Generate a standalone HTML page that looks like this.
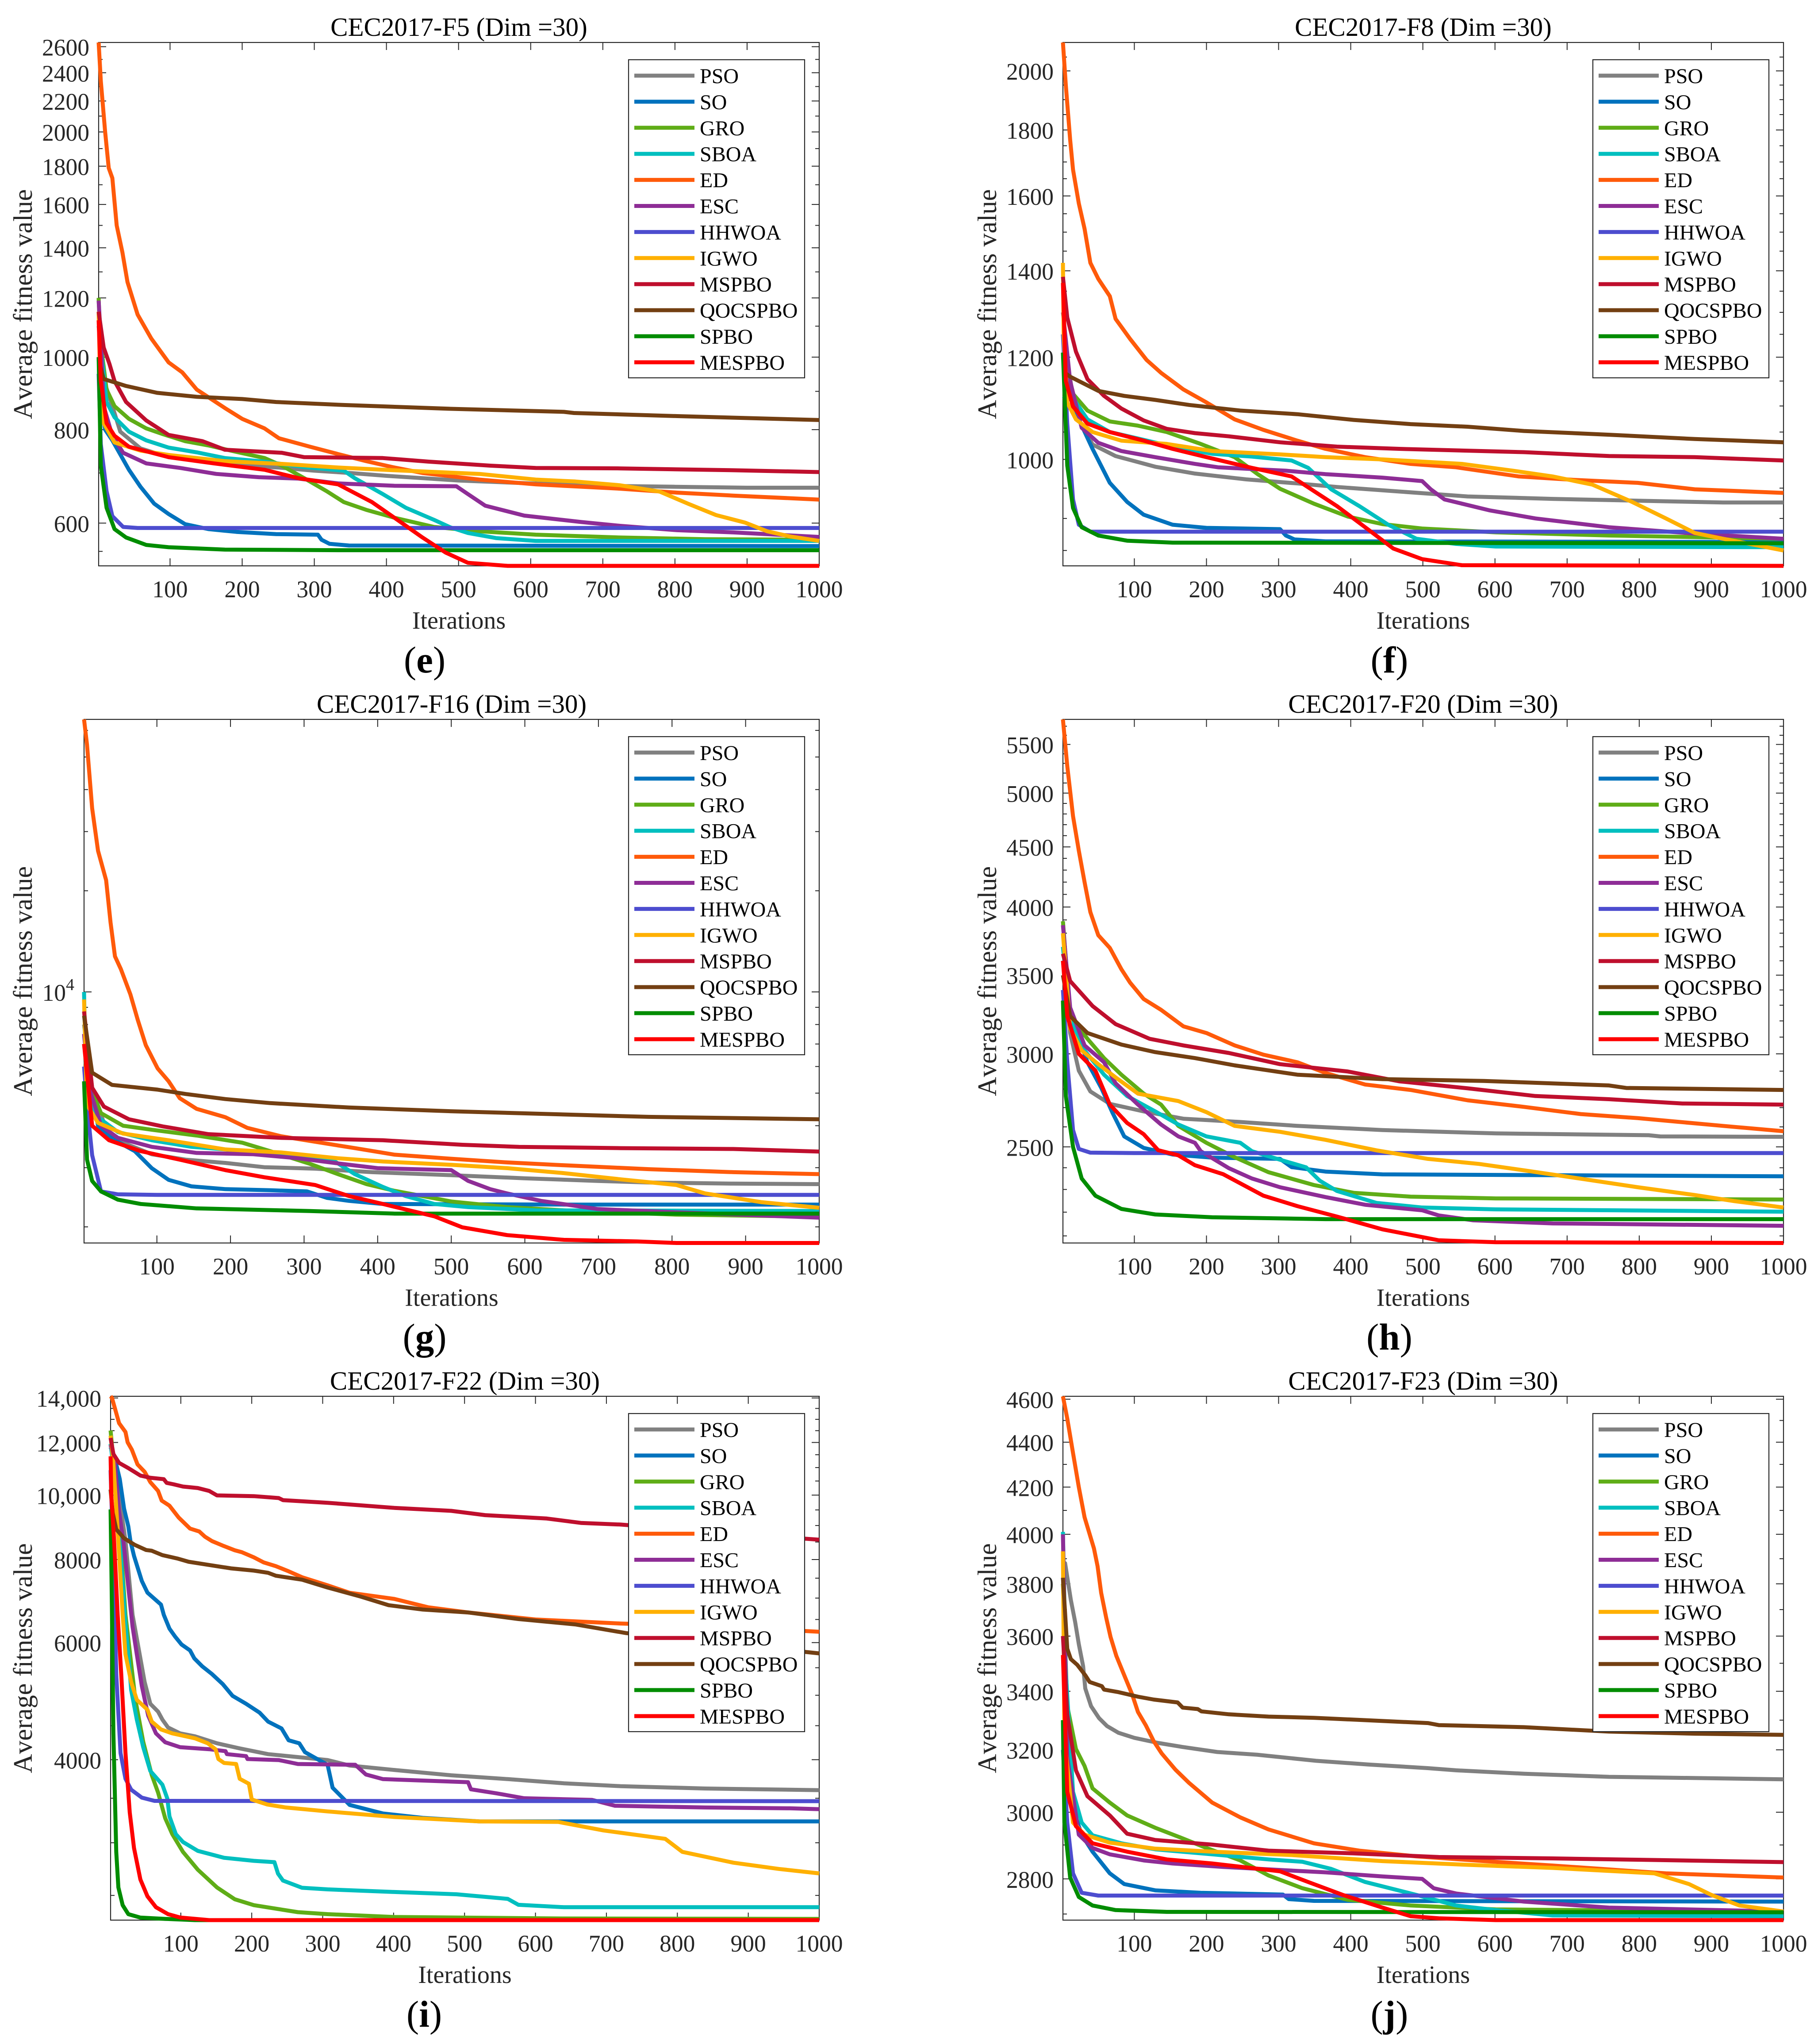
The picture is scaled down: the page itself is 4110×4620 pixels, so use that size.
<!DOCTYPE html>
<html lang="en">
<head>
<meta charset="utf-8">
<title>CEC2017 convergence curves</title>
<style>
html,body{margin:0;padding:0;background:#fff;}
svg{display:block;font-family:"Liberation Serif",serif;font-kerning:none;}
text{fill:#262626;}
</style>
</head>
<body>
<svg id="figure" xmlns="http://www.w3.org/2000/svg" width="4110" height="4620" viewBox="0 0 4110 4620"></svg>
<script>
const seriesNames = ['PSO','SO','GRO','SBOA','ED','ESC','HHWOA','IGWO','MSPBO','QOCSPBO','SPBO','MESPBO'];
const seriesColors = ['#808080','#0072BD','#5FAD17','#00BFBF','#FF5A0A','#8E2D96','#4D4DCF','#FFB000','#BF0F2D','#733F12','#008C00','#FF0000'];
const iterationTicks = [100,200,300,400,500,600,700,800,900,1000];

/* F5 */
const f5Major = [600,800,1000,1200,1400,1600,1800,2000,2200,2400,2600];
const f5Minor = [550,700,900,1100,1300,1500,1700,1900,2100,2300,2500];
const f5PSO = [[1,1000],[10,920],[20,860],[31,795],[59,755],[98,735],[150,724],[200,716],[250,712],[300,705],[350,700],[400,694],[450,689],[500,684],[600,678],[700,673],[800,671],[900,669],[1000,669]];
const f5SO = [[1,1000],[5,860],[10,800],[20,774],[43,707],[59,671],[78,637],[98,617],[121,598],[153,589],[192,584],[247,580],[305,579],[310,570],[321,563],[348,560],[1000,559]];
const f5GRO = [[1,1200],[3,1060],[12,905],[23,860],[43,827],[67,803],[90,789],[121,772],[153,762],[192,747],[231,733],[255,716],[286,689],[317,662],[341,640],[372,625],[411,610],[466,593],[529,585],[607,579],[724,574],[842,571],[1000,570]];
const f5SBOA = [[1,1100],[12,871],[23,831],[43,795],[67,774],[98,757],[137,746],[176,733],[231,725],[286,713],[341,705],[356,689],[395,656],[427,629],[466,606],[489,592],[513,582],[552,573],[607,568],[1000,568]];
const f5ED = [[1,2634],[4,2340],[10,2000],[15,1790],[20,1735],[26,1500],[34,1380],[41,1260],[55,1140],[74,1059],[98,984],[117,954],[137,905],[176,855],[200,827],[231,803],[251,779],[294,759],[333,742],[372,726],[411,712],[450,700],[529,686],[607,676],[724,667],[803,659],[881,653],[1000,645]];
const f5ESC = [[1,1190],[3,1100],[8,860],[20,785],[35,745],[67,721],[114,711],[164,698],[223,691],[278,688],[333,678],[411,673],[497,672],[513,656],[537,633],[591,614],[670,602],[724,595],[803,587],[881,583],[1000,575]];
const f5HHWOA = [[1,950],[4,765],[12,662],[20,613],[35,593],[55,591],[1000,591]];
const f5IGWO = [[1,1150],[3,929],[8,816],[23,769],[59,750],[98,740],[176,726],[255,720],[333,712],[411,706],[529,698],[607,686],[662,682],[724,674],[779,661],[818,637],[857,615],[897,601],[928,585],[959,576],[1000,568]];
const f5MSPBO = [[1,1150],[8,1030],[16,979],[23,929],[39,871],[67,823],[98,787],[145,772],[176,752],[255,745],[286,735],[395,733],[458,725],[544,716],[607,711],[724,710],[881,706],[1000,702]];
const f5QOCSPBO = [[1,990],[8,935],[39,915],[82,896],[137,885],[200,879],[247,871],[341,863],[489,853],[646,845],[660,842],[803,834],[1000,824]];
const f5SPBO = [[1,1000],[4,716],[12,629],[23,589],[39,574],[67,561],[98,557],[176,553],[333,552],[1000,552]];
const f5MESPBO = [[1,1120],[4,929],[12,816],[23,785],[43,759],[98,735],[161,721],[231,707],[278,689],[333,676],[380,640],[411,610],[450,574],[482,548],[513,531],[568,526],[1000,526]];

/* F8 */
const f8Major = [1000,1200,1400,1600,1800,2000];
const f8Minor = [850,900,950,1050,1100,1150,1250,1300,1350,1450,1500,1550,1650,1700,1750,1850,1900,1950,2050];
const f8PSO = [[1,1250],[19,1083],[42,1027],[74,1006],[129,987],[184,975],[255,965],[326,958],[381,952],[459,945],[562,936],[680,932],[798,929],[916,926],[1000,926]];
const f8SO = [[1,1200],[23,1074],[42,1019],[66,959],[90,927],[113,906],[153,890],[200,885],[302,883],[310,873],[322,867],[365,864],[1000,863]];
const f8GRO = [[1,1210],[15,1124],[35,1091],[66,1070],[105,1062],[145,1050],[192,1028],[239,1004],[271,974],[302,949],[349,924],[396,903],[444,891],[499,884],[601,878],[758,873],[1000,868]];
const f8SBOA = [[1,1120],[19,1107],[35,1074],[66,1050],[105,1038],[153,1023],[208,1010],[263,1005],[318,998],[341,985],[373,948],[412,920],[452,890],[491,868],[546,860],[601,856],[1000,855]];
const f8ED = [[1,2104],[5,1950],[11,1769],[15,1677],[23,1579],[31,1509],[39,1420],[50,1380],[66,1338],[74,1285],[94,1240],[117,1194],[137,1167],[168,1133],[200,1107],[239,1074],[279,1054],[326,1034],[365,1019],[420,1004],[483,992],[546,986],[633,970],[711,964],[798,959],[877,948],[1000,942]];
const f8ESC = [[1,1300],[11,1150],[27,1058],[50,1030],[82,1015],[129,1004],[184,992],[216,986],[263,983],[310,980],[365,974],[444,968],[499,962],[511,948],[530,931],[593,913],[656,900],[758,886],[877,876],[1000,868]];
const f8HHWOA = [[1,1250],[7,1066],[15,931],[23,890],[39,879],[1000,879]];
const f8IGWO = [[1,1420],[2,1250],[7,1107],[19,1074],[42,1050],[82,1034],[145,1028],[208,1015],[302,1009],[365,1004],[444,1000],[554,992],[625,980],[680,970],[735,956],[790,927],[837,900],[877,877],[916,868],[1000,850]];
const f8MSPBO = [[1,1385],[7,1288],[19,1212],[35,1154],[58,1120],[82,1095],[113,1072],[145,1056],[184,1048],[231,1042],[302,1031],[381,1023],[467,1019],[640,1013],[758,1006],[877,1004],[1000,998]];
const f8QOCSPBO = [[1,1170],[11,1159],[50,1130],[86,1120],[129,1112],[176,1102],[247,1091],[326,1084],[404,1073],[483,1065],[562,1060],[640,1052],[758,1045],[877,1037],[1000,1031]];
const f8SPBO = [[1,1210],[7,989],[15,917],[27,886],[50,873],[90,865],[153,862],[1000,861]];
const f8MESPBO = [[1,1370],[5,1150],[15,1099],[35,1066],[66,1050],[113,1034],[153,1019],[200,1004],[263,985],[318,970],[349,945],[381,920],[420,886],[459,853],[499,837],[554,828],[1000,827]];

/* F16 */
const f16Major = [10000];
const f16Minor = [2000,3000,4000,5000,6000,7000,8000,9000,20000,30000,40000,50000,60000];
const f16PSO = [[1,8000],[12,5190],[31,3890],[54,3560],[93,3290],[139,3170],[193,3100],[246,3010],[315,2980],[392,2910],[500,2850],[599,2790],[699,2740],[768,2710],[883,2690],[1000,2680]];
const f16SO = [[1,7000],[20,4000],[43,3620],[70,3360],[93,2990],[116,2760],[147,2640],[193,2590],[254,2570],[304,2550],[331,2440],[361,2390],[407,2340],[653,2330],[1000,2330]];
const f16GRO = [[1,7000],[8,5350],[24,4360],[54,4000],[93,3890],[154,3740],[216,3560],[254,3360],[308,3080],[346,2870],[385,2680],[423,2560],[500,2380],[576,2290],[653,2240],[806,2175],[1000,2145]];
const f16SBOA = [[1,10000],[3,6180],[16,4300],[47,3830],[93,3620],[147,3460],[208,3380],[262,3320],[338,3170],[369,2870],[407,2630],[438,2470],[477,2340],[523,2290],[615,2240],[1000,2230]];
const f16ED = [[1,64700],[5,54400],[12,35200],[20,26300],[31,21500],[37,16100],[43,12760],[51,11700],[64,9830],[74,8260],[85,6940],[101,5920],[116,5420],[131,4830],[154,4490],[193,4240],[223,3940],[269,3720],[323,3560],[369,3430],[423,3280],[499,3190],[576,3110],[653,3050],[768,2970],[883,2910],[1000,2870]];
const f16ESC = [[1,7500],[8,5190],[24,4000],[47,3680],[93,3460],[154,3320],[231,3290],[292,3200],[346,3090],[400,2990],[500,2950],[523,2740],[553,2590],[576,2515],[622,2390],[699,2260],[806,2210],[1000,2130]];
const f16HHWOA = [[1,6000],[5,4620],[12,3270],[24,2550],[47,2500],[100,2490],[1000,2490]];
const f16IGWO = [[1,9500],[5,4620],[20,4080],[54,3790],[116,3620],[193,3400],[269,3330],[346,3200],[407,3130],[500,3060],[576,2990],[653,2890],[730,2770],[806,2665],[845,2515],[921,2370],[1000,2280]];
const f16MSPBO = [[1,8750],[12,5190],[28,4560],[62,4180],[108,3980],[170,3775],[269,3680],[407,3620],[515,3510],[592,3460],[730,3430],[883,3410],[1000,3350]];
const f16QOCSPBO = [[1,8500],[12,5750],[39,5290],[101,5120],[139,4970],[193,4800],[254,4670],[361,4530],[500,4415],[653,4320],[768,4250],[1000,4180]];
const f16SPBO = [[1,5420],[5,3170],[12,2740],[24,2550],[47,2410],[78,2340],[154,2270],[308,2230],[423,2190],[1000,2190]];
const f16MESPBO = [[1,7000],[12,4000],[35,3620],[78,3360],[131,3170],[193,2950],[246,2810],[315,2665],[361,2470],[407,2340],[477,2150],[515,1994],[576,1890],[653,1830],[753,1810],[806,1791],[1000,1791]];

/* F20 */
const f20Major = [2500,3000,3500,4000,4500,5000,5500];
const f20Minor = [2100,2200,2300,2400,2600,2700,2800,2900,3100,3200,3300,3400,3600,3700,3800,3900,4100,4200,4300,4400,4600,4700,4800,4900,5100,5200,5300,5400,5600,5700];
const f20PSO = [[1,3600],[11,3125],[23,2903],[39,2787],[66,2720],[113,2680],[168,2642],[247,2625],[326,2605],[444,2584],[601,2567],[813,2558],[829,2552],[1000,2550]];
const f20SO = [[1,3400],[15,3206],[35,2951],[54,2808],[70,2671],[86,2552],[113,2495],[153,2463],[208,2448],[302,2442],[318,2403],[365,2382],[444,2369],[1000,2360]];
const f20GRO = [[1,3890],[11,3230],[35,3090],[58,2975],[82,2880],[113,2775],[137,2716],[161,2605],[200,2520],[239,2450],[286,2379],[349,2320],[404,2285],[483,2268],[601,2260],[1000,2255]];
const f20SBOA = [[1,3700],[11,3206],[31,3020],[58,2880],[90,2762],[129,2680],[161,2612],[200,2552],[247,2520],[263,2479],[302,2438],[338,2402],[357,2340],[381,2293],[436,2240],[499,2220],[601,2212],[1000,2202]];
const f20ED = [[1,5777],[7,5272],[15,4780],[23,4467],[31,4200],[39,3960],[50,3785],[66,3692],[82,3541],[94,3450],[113,3340],[137,3270],[168,3166],[200,3125],[239,3050],[279,2995],[326,2951],[365,2890],[420,2825],[483,2795],[562,2739],[640,2704],[719,2666],[798,2645],[916,2605],[1000,2578]];
const f20ESC = [[1,3860],[11,3285],[31,3050],[58,2951],[74,2832],[105,2716],[137,2612],[161,2552],[184,2520],[192,2479],[231,2398],[263,2350],[302,2310],[365,2266],[420,2232],[499,2208],[522,2186],[570,2165],[680,2152],[1000,2142]];
const f20HHWOA = [[1,3400],[7,2951],[15,2584],[23,2490],[39,2472],[100,2470],[1000,2470]];
const f20IGWO = [[1,3800],[11,3153],[27,3020],[50,2940],[74,2865],[105,2775],[161,2735],[200,2676],[239,2605],[302,2575],[365,2535],[436,2483],[507,2442],[578,2418],[640,2388],[719,2349],[798,2310],[877,2275],[932,2248],[1000,2220]];
const f20MSPBO = [[1,3650],[11,3460],[42,3295],[74,3180],[121,3090],[168,3050],[231,3005],[302,2940],[396,2898],[467,2843],[562,2804],[656,2762],[758,2745],[860,2722],[1000,2716]];
const f20QOCSPBO = [[1,3500],[11,3230],[35,3125],[82,3055],[129,3010],[184,2975],[239,2933],[326,2880],[444,2855],[585,2845],[758,2820],[782,2806],[1000,2795]];
const f20SPBO = [[1,3330],[5,2762],[15,2500],[27,2350],[46,2272],[82,2214],[129,2190],[208,2178],[365,2170],[1000,2170]];
const f20MESPBO = [[1,3600],[7,3230],[23,3000],[46,2903],[66,2716],[90,2620],[113,2563],[133,2484],[161,2459],[184,2412],[223,2370],[279,2272],[326,2226],[381,2181],[444,2127],[522,2082],[601,2074],[1000,2071]];

/* F22 */
const f22Major = [4000,6000,8000,10000,12000,14000];
const f22Minor = [2500,3000,3500,4500,5000,5500,6500,7000,7500,8500,9000,9500,10500,11000,11500,12500,13000,13500];
const f22PSO = [[1,11900],[7,11100],[22,8527],[32,6605],[49,5234],[57,4855],[68,4724],[74,4596],[82,4472],[99,4382],[120,4337],[151,4234],[182,4162],[223,4078],[265,4036],[307,3995],[338,3920],[401,3860],[481,3790],[561,3740],[640,3686],[720,3650],[839,3620],[1000,3600]];
const f22SO = [[1,11800],[7,11350],[14,10567],[20,9541],[26,8973],[29,8527],[34,8103],[45,7428],[53,7132],[72,6846],[76,6605],[84,6297],[92,6126],[101,5961],[113,5840],[119,5682],[130,5529],[144,5380],[159,5199],[173,4990],[192,4855],[211,4708],[223,4565],[242,4457],[252,4278],[267,4234],[275,4106],[307,3928],[314,3630],[338,3420],[385,3320],[441,3270],[521,3230],[1000,3230]];
const f22GRO = [[1,12507],[6,11000],[15,8527],[22,6605],[36,4922],[47,4256],[59,3795],[68,3569],[78,3266],[88,3091],[103,2907],[124,2733],[151,2570],[176,2467],[203,2417],[265,2359],[307,2343],[401,2320],[640,2308],[1000,2305]];
const f22SBOA = [[1,11944],[6,10800],[14,8527],[21,6605],[26,5760],[30,5093],[38,4596],[47,4177],[57,3847],[74,3668],[81,3496],[84,3287],[93,3091],[103,3008],[124,2917],[161,2848],[203,2818],[232,2805],[237,2696],[244,2632],[271,2567],[307,2553],[401,2530],[489,2510],[561,2470],[576,2420],[640,2400],[1000,2400]];
const f22ED = [[1,14080],[3,14000],[13,12830],[22,12440],[25,12006],[31,11703],[39,11120],[49,10840],[57,10460],[68,10145],[73,9812],[84,9639],[97,9253],[113,8905],[126,8816],[134,8659],[144,8527],[159,8397],[176,8261],[186,8206],[203,8061],[217,7919],[234,7819],[252,7680],[271,7524],[307,7316],[338,7130],[401,6980],[449,6780],[505,6660],[600,6500],[720,6410],[879,6330],[1000,6230]];
const f22ESC = [[1,11900],[7,11170],[13,9443],[19,8527],[32,6340],[38,5760],[45,5164],[54,4660],[65,4382],[78,4249],[99,4177],[140,4148],[163,4120],[165,4078],[192,4050],[194,4009],[238,3995],[265,3941],[346,3930],[361,3800],[385,3740],[505,3700],[509,3610],[545,3560],[584,3500],[680,3480],[712,3410],[839,3390],[959,3380],[1000,3370]];
const f22HHWOA = [[1,10900],[7,6605],[9,5380],[15,4092],[22,3744],[30,3606],[45,3508],[63,3468],[1000,3465]];
const f22IGWO = [[1,12285],[5,11170],[12,8527],[18,6605],[22,5760],[30,5234],[38,4922],[53,4756],[59,4565],[72,4442],[88,4382],[120,4307],[138,4234],[149,4148],[153,4009],[161,3955],[178,3941],[183,3744],[196,3680],[200,3485],[222,3425],[248,3390],[307,3344],[401,3280],[521,3230],[632,3225],[696,3131],[783,3041],[807,2907],[879,2800],[943,2740],[1000,2698]];
const f22MSPBO = [[1,12190],[5,11527],[13,11180],[26,10980],[43,10700],[57,10620],[76,10567],[80,10433],[90,10380],[103,10300],[124,10247],[140,10145],[151,9990],[203,9964],[238,9898],[244,9828],[307,9738],[401,9568],[481,9470],[529,9330],[616,9220],[664,9082],[720,9030],[900,8720],[1000,8570]];
const f22QOCSPBO = [[1,10195],[4,9400],[9,8883],[20,8613],[35,8418],[51,8269],[59,8248],[74,8123],[95,8029],[111,7939],[140,7850],[171,7758],[203,7699],[223,7641],[234,7563],[271,7460],[307,7260],[354,7035],[393,6830],[441,6728],[505,6660],[576,6510],[656,6390],[728,6200],[1000,5780]];
const f22SPBO = [[1,9516],[3,6605],[5,4382],[9,2907],[12,2570],[18,2417],[26,2343],[43,2315],[78,2305],[120,2295],[1000,2295]];
const f22MESPBO = [[1,11437],[2,10000],[6,8527],[11,6605],[16,5380],[22,4092],[28,3333],[34,2947],[43,2641],[53,2492],[65,2400],[82,2343],[99,2316],[140,2295],[1000,2295]];

/* F23 */
const f23Major = [2800,3000,3200,3400,3600,3800,4000,4200,4400,4600];
const f23Minor = [2700,2900,3100,3300,3500,3700,3900,4100,4300,4500];
const f23PSO = [[1,3860],[4,3882],[12,3737],[18,3652],[23,3570],[29,3489],[32,3410],[40,3348],[51,3307],[62,3280],[78,3257],[100,3240],[133,3223],[166,3210],[215,3193],[270,3184],[352,3164],[424,3152],[507,3140],[546,3133],[640,3122],[758,3112],[1000,3104]];
const f23SO = [[1,3300],[11,3037],[27,2931],[42,2880],[66,2816],[86,2785],[129,2767],[192,2760],[306,2755],[314,2742],[349,2737],[1000,2735]];
const f23GRO = [[1,3800],[7,3349],[19,3203],[31,3147],[42,3075],[66,3030],[90,2990],[129,2952],[161,2925],[200,2891],[247,2854],[286,2810],[333,2773],[396,2740],[483,2724],[601,2713],[1000,2706]];
const f23SBOA = [[1,4010],[5,3470],[15,3064],[27,2968],[42,2929],[82,2905],[129,2887],[208,2872],[286,2857],[333,2850],[373,2829],[420,2791],[491,2754],[546,2724],[601,2711],[680,2696],[1000,2694]];
const f23ED = [[1,4614],[7,4509],[15,4351],[23,4200],[31,4071],[44,3942],[49,3870],[54,3765],[61,3669],[67,3597],[75,3527],[86,3457],[97,3389],[105,3328],[116,3282],[127,3228],[138,3188],[157,3135],[176,3092],[208,3030],[247,2984],[286,2947],[349,2905],[412,2883],[491,2866],[585,2852],[680,2839],[837,2816],[1000,2804]];
const f23ESC = [[1,4000],[7,3175],[23,2931],[42,2891],[66,2872],[113,2854],[153,2845],[223,2835],[310,2825],[365,2819],[444,2807],[499,2800],[515,2773],[546,2758],[640,2735],[758,2718],[1000,2707]];
const f23HHWOA = [[1,3200],[7,2968],[15,2816],[27,2760],[50,2752],[1000,2752]];
const f23IGWO = [[1,3930],[3,3240],[15,2968],[31,2931],[66,2907],[129,2889],[208,2880],[318,2870],[444,2852],[562,2841],[680,2832],[821,2816],[869,2785],[900,2754],[939,2724],[1000,2707]];
const f23MSPBO = [[1,3600],[7,3319],[19,3133],[35,3050],[66,2990],[90,2934],[129,2915],[208,2901],[286,2883],[404,2875],[522,2864],[680,2860],[798,2856],[1000,2849]];
const f23QOCSPBO = [[1,3824],[7,3553],[12,3515],[21,3494],[32,3457],[38,3433],[55,3418],[58,3406],[78,3397],[105,3381],[127,3371],[160,3361],[167,3343],[188,3338],[193,3330],[231,3320],[286,3312],[349,3308],[507,3290],[522,3283],[640,3276],[758,3261],[877,3254],[1000,3250]];
const f23SPBO = [[1,3300],[3,2968],[11,2804],[23,2748],[42,2724],[74,2711],[145,2706],[1000,2705]];
const f23MESPBO = [[1,3530],[7,3064],[19,2957],[42,2905],[90,2880],[145,2857],[208,2845],[302,2822],[341,2791],[389,2754],[444,2718],[483,2694],[522,2688],[601,2683],[1000,2683]];

const panels = [
  {letter:'e',title:'CEC2017-F5 (Dim =30)',left:223,right:1852,top:96,bottom:1279,ymin:526,ymax:2634,major:f5Major,minor:f5Minor,labelFmt:'plain',legendX:1421,yTitleX:72,letterX:960,
   series:[f5PSO,f5SO,f5GRO,f5SBOA,f5ED,f5ESC,f5HHWOA,f5IGWO,f5MSPBO,f5QOCSPBO,f5SPBO,f5MESPBO]},
  {letter:'f',title:'CEC2017-F8 (Dim =30)',left:2403,right:4032,top:96,bottom:1279,ymin:827,ymax:2104,major:f8Major,minor:f8Minor,labelFmt:'plain',legendX:3601,yTitleX:2252,letterX:3141,
   series:[f8PSO,f8SO,f8GRO,f8SBOA,f8ED,f8ESC,f8HHWOA,f8IGWO,f8MSPBO,f8QOCSPBO,f8SPBO,f8MESPBO]},
  {letter:'g',title:'CEC2017-F16 (Dim =30)',left:190,right:1852,top:1626,bottom:2809.5,ymin:1791,ymax:64700,major:f16Major,minor:f16Minor,labelFmt:'power',legendX:1421,yTitleX:72,letterX:960,
   series:[f16PSO,f16SO,f16GRO,f16SBOA,f16ED,f16ESC,f16HHWOA,f16IGWO,f16MSPBO,f16QOCSPBO,f16SPBO,f16MESPBO]},
  {letter:'h',title:'CEC2017-F20 (Dim =30)',left:2403,right:4032,top:1626,bottom:2809.5,ymin:2071,ymax:5777,major:f20Major,minor:f20Minor,labelFmt:'plain',legendX:3601,yTitleX:2252,letterX:3141,
   series:[f20PSO,f20SO,f20GRO,f20SBOA,f20ED,f20ESC,f20HHWOA,f20IGWO,f20MSPBO,f20QOCSPBO,f20SPBO,f20MESPBO]},
  {letter:'i',title:'CEC2017-F22 (Dim =30)',left:250,right:1852,top:3156,bottom:4340,ymin:2295,ymax:14080,major:f22Major,minor:f22Minor,labelFmt:'comma',legendX:1421,yTitleX:72,letterX:959,
   series:[f22PSO,f22SO,f22GRO,f22SBOA,f22ED,f22ESC,f22HHWOA,f22IGWO,f22MSPBO,f22QOCSPBO,f22SPBO,f22MESPBO]},
  {letter:'j',title:'CEC2017-F23 (Dim =30)',left:2403,right:4032,top:3156,bottom:4340,ymin:2683,ymax:4614,major:f23Major,minor:f23Minor,labelFmt:'plain',legendX:3601,yTitleX:2252,letterX:3141,
   series:[f23PSO,f23SO,f23GRO,f23SBOA,f23ED,f23ESC,f23HHWOA,f23IGWO,f23MSPBO,f23QOCSPBO,f23SPBO,f23MESPBO]}
];

const NS = 'http://www.w3.org/2000/svg';
const AXIS = '#262626';
const figure = document.getElementById('figure');

function node(tag, parent, attrs) {
  const n = document.createElementNS(NS, tag);
  for (const k in attrs) n.setAttribute(k, attrs[k]);
  parent.appendChild(n);
  return n;
}
function label(parent, x, y, str, size, anchor) {
  const t = node('text', parent, {x:x, y:y, 'font-size':size, 'text-anchor':anchor});
  t.textContent = str;
  return t;
}
function tickLine(parent, x1, y1, x2, y2) {
  return node('line', parent, {x1:x1, y1:y1, x2:x2, y2:y2, stroke:AXIS, 'stroke-width':2});
}

panels.forEach(function (p) {
  const xScale = function (it) { return p.left + (it - 1) / 999 * (p.right - p.left); };
  const yScale = function (v) {
    return p.top + (Math.log(p.ymax) - Math.log(v)) / (Math.log(p.ymax) - Math.log(p.ymin)) * (p.bottom - p.top);
  };
  const cx = (p.left + p.right) / 2;

  const g = node('g', figure, {});
  
  

  /* axes box */
  const box = node('rect', g, {x:p.left, y:p.top, width:p.right - p.left, height:p.bottom - p.top, fill:'none', stroke:AXIS, 'stroke-width':2.2});
  
  

  /* x ticks */
  iterationTicks.forEach(function (v) {
    const x = xScale(v);
    const b = tickLine(g, x, p.bottom, x, p.bottom - 17);
    
    
    const t = tickLine(g, x, p.top, x, p.top + 17);
    
    
    const lab = label(g, x, p.bottom + 71, String(v), 53.5, 'middle');
    
    
  });

  /* y major ticks and labels */
  p.major.forEach(function (v) {
    const y = yScale(v);
    const l = tickLine(g, p.left, y, p.left + 17, y);
    
    
    const r = tickLine(g, p.right, y, p.right - 17, y);
    
    
    let txt;
    if (p.labelFmt === 'power') {
      txt = label(g, p.left - 22, y + 20, '10', 53.5, 'end');
      const sup = node('tspan', txt, {'font-size':38, dy:-24});
      sup.textContent = Math.round(Math.log10(v));
    } else if (p.labelFmt === 'comma' && v >= 10000) {
      txt = label(g, p.left - 21, y + 20, Math.floor(v / 1000) + ',000', 53.5, 'end');
    } else {
      txt = label(g, p.left - 21, y + 20, String(v), 53.5, 'end');
    }
    
    
  });

  /* y minor ticks */
  p.minor.forEach(function (v) {
    const y = yScale(v);
    const l = tickLine(g, p.left, y, p.left + 9, y);
    
    
    const r = tickLine(g, p.right, y, p.right - 9, y);
    
    
  });

  /* series */
  p.series.forEach(function (pts, i) {
    const d = pts.map(function (q) { return xScale(q[0]).toFixed(1) + ',' + yScale(q[1]).toFixed(1); }).join(' ');
    const line = node('polyline', g, {points:d, fill:'none', stroke:seriesColors[i], 'stroke-width':9, 'stroke-linejoin':'round'});
    
    
  });

  /* titles */
  const title = label(g, cx, p.top - 15, p.title, 59, 'middle');
  title.setAttribute('fill', '#000');
  title.style.fill = '#000';
  
  

  const xTitle = label(g, cx, p.bottom + 142, 'Iterations', 56, 'middle');
  
  

  const yc = (p.top + p.bottom) / 2;
  const yTitle = label(g, p.yTitleX, yc, 'Average fitness value', 60, 'middle');
  yTitle.setAttribute('transform', 'rotate(-90 ' + p.yTitleX + ' ' + yc + ')');
  
  

  /* legend */
  const legend = node('g', g, {});
  
  
  const legendBox = node('rect', legend, {x:p.legendX, y:p.top + 39, width:398, height:719, fill:'#fff', stroke:AXIS, 'stroke-width':2.2});
  
  
  seriesNames.forEach(function (name, i) {
    const ry = p.top + 75 + i * 58.9;
    const key = node('line', legend, {x1:p.legendX + 13, y1:ry, x2:p.legendX + 149, y2:ry, stroke:seriesColors[i], 'stroke-width':9});
    
    
    const entry = label(legend, p.legendX + 161, ry + 17, name, 48, 'start');
    entry.style.fill = '#000';
    
    
  });

  /* sub-figure letter */
  const sub = label(g, p.letterX, p.bottom + 241, '(', 85, 'middle');
  sub.style.fill = '#000';
  const subBold = node('tspan', sub, {'font-weight':'bold'});
  subBold.textContent = p.letter;
  const subClose = node('tspan', sub, {});
  subClose.textContent = ')';
  
  
});
</script>
</body>
</html>
